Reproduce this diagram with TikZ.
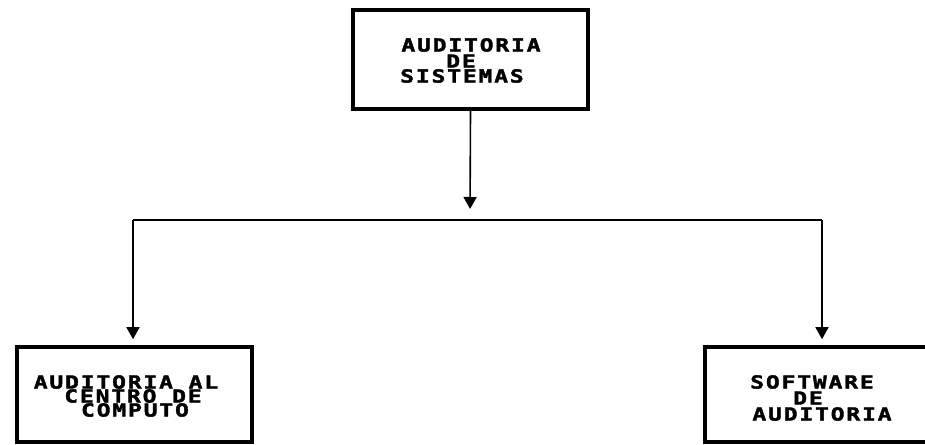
\documentclass[tikz,border=0pt]{standalone}
\usepackage{fontspec}
\usetikzlibrary{arrows.meta}
\newfontfamily\dotfont{DejaVu Sans Mono}[FakeStretch=1.28,LetterSpace=10,FakeBold=2]
\begin{document}
\begin{tikzpicture}[x=1pt,y=-1pt,
  box/.style={draw,line width=3.6pt,minimum width=235pt,minimum height=95pt,inner sep=0pt},
  lbl/.style={inner sep=0pt,font=\dotfont\bfseries\fontsize{18}{18}\selectfont},
  link/.style={line width=1.6pt},
  arr/.style={link,-{Triangle[width=13pt,length=12pt]}}]
  \useasboundingbox (0,0) rectangle (925,444);
  \clip (0,0) rectangle (925,444);
  % boxes
  \node[box,minimum height=99pt] (top) at (470.5,59.5) {};
  \node[box] (left) at (134.5,394.5) {};
  \node[box] (right) at (822.5,394.5) {};
  % labels
  \node[lbl] (t1) at (471,45) {AUDITORIA};
  \node[lbl] (t2) at (461,61) {DE};
  \node[lbl] (t3) at (462,76) {SISTEMAS};
  \node[lbl] (l1) at (126,382) {AUDITORIA AL};
  \node[lbl] (l2) at (133,396) {CENTRO DE};
  \node[lbl] (l3) at (135,410) {COMPUTO};
  \node[lbl] (r1) at (812,382) {SOFTWARE};
  \node[lbl] (r2) at (808,398) {DE};
  \node[lbl] (r3) at (822,414) {AUDITORIA};
  % connectors
  \coordinate (junc) at (470,220);
  \coordinate (lc) at (133,220);
  \coordinate (rc) at (822,220);
  \draw[arr,shorten >=11pt] (top.south) -- (junc);
  \draw[link] (lc) -- (rc);
  \draw[arr,shorten >=6pt] (lc) -- (lc |- left.north);
  \draw[arr,shorten >=6pt] (rc) -- (rc |- right.north);
\end{tikzpicture}
\end{document}
